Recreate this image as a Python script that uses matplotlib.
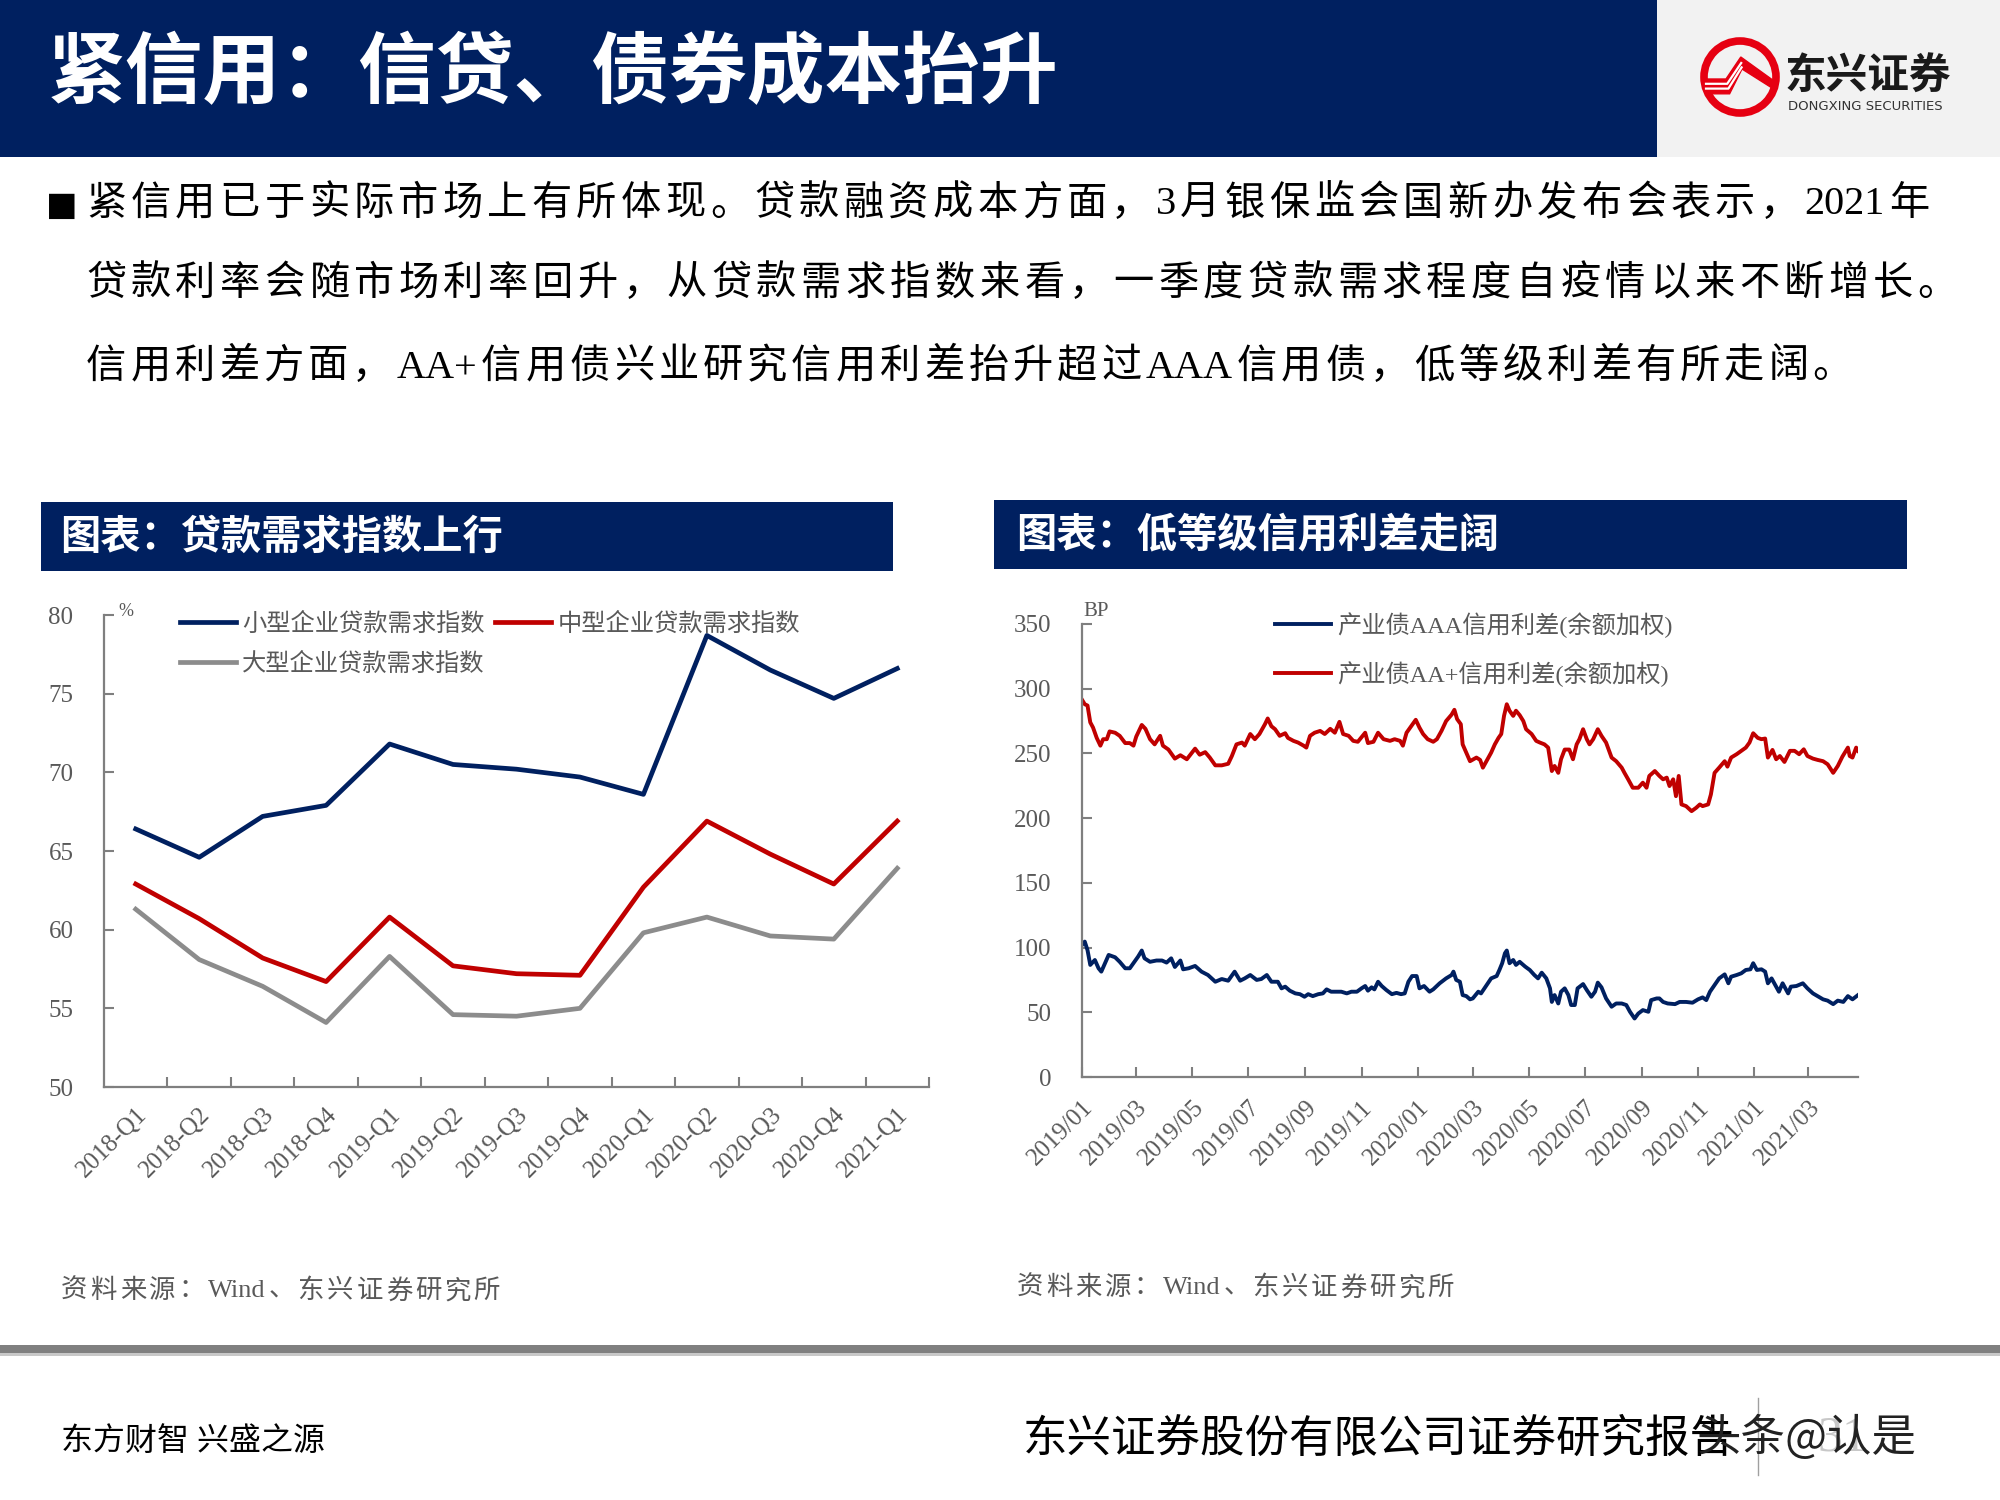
import re
import numpy as np
import pandas as pd
import matplotlib
matplotlib.use("Agg")
import matplotlib.pyplot as plt
from matplotlib.patches import Rectangle, Circle, Polygon

# page size in pixels (figure is 20x15 in at 100 dpi)
W, H = 2000, 1500
NAVY = "#002060"
RED = "#C00000"
LGRAY = "#8C8C8C"
AXCOL = "#7F7F7F"
TXT = "#595959"
SERIF = ["Liberation Serif", "Noto Sans CJK SC"]
SANS = ["Noto Sans CJK SC", "DejaVu Sans"]

# left chart: loan demand index (quarterly)
quarters = ["2018-Q1", "2018-Q2", "2018-Q3", "2018-Q4", "2019-Q1", "2019-Q2", "2019-Q3",
            "2019-Q4", "2020-Q1", "2020-Q2", "2020-Q3", "2020-Q4", "2021-Q1"]
small_idx = [66.4, 64.6, 67.2, 67.9, 71.8, 70.5, 70.2, 69.7, 68.6, 78.7, 76.5, 74.7, 76.6]
medium_idx = [62.9, 60.7, 58.2, 56.7, 60.8, 57.7, 57.2, 57.1, 62.7, 66.9, 64.8, 62.9, 66.9]
large_idx = [61.3, 58.1, 56.4, 54.1, 58.3, 54.6, 54.5, 55.0, 59.8, 60.8, 59.6, 59.4, 63.9]
demand_names = ["小型企业贷款需求指数", "中型企业贷款需求指数", "大型企业贷款需求指数"]

# right chart: credit spreads (BP), x = days since 2019-01-01
aaa_days = [0, 3, 6, 9, 14, 18, 21, 25, 29, 36, 41, 47, 52, 57, 61, 65, 68, 74, 81, 87,
            92, 97, 101, 107, 110, 116, 123, 130, 137, 145, 152, 159, 166, 172, 177, 183, 190, 195, 201, 206,
            210, 213, 217, 221, 226, 232, 237, 242, 246, 251, 257, 262, 266, 271, 277, 282, 288, 293, 299, 304,
            308, 311, 315, 318, 322, 326, 331, 337, 342, 347, 351, 355, 359, 364, 367, 372, 378, 382, 389, 396,
            402, 404, 407, 411, 414, 418, 422,
            425, 431, 434, 440, 445, 451, 454, 457, 460, 462, 465, 469, 472, 476, 482, 487, 492, 496, 500, 505,
            509, 511, 514, 518, 521, 525, 529, 532, 536, 539, 545, 549, 554, 558, 561, 565, 570, 576, 581, 587,
            592, 596, 601, 605, 610, 616, 619, 625, 628,
            632, 637, 645, 650, 657, 664, 670, 675, 679, 683, 688, 693, 699, 703, 706, 712, 717, 722, 727, 730,
            734, 739, 743, 746, 750, 755, 758, 762, 768, 771, 777, 784, 789, 795, 800, 806, 811, 817, 822, 828,
            833, 838, 844]
aaa_bp = [102, 104.6, 98, 86.6, 90.4, 84, 81.4, 87.9, 94.3, 92.5, 89, 84, 84, 89, 93, 97.7, 91.7, 89, 90, 90,
          88.4, 91.7, 85, 90, 83.2, 84, 85.8, 81.4, 78.8, 73.6, 75.7, 74.4, 81.4, 74.4, 76.2, 78.8, 75, 75.7, 78.8, 73.6,
          73.6, 73.6, 68.5, 69.8, 66.7, 64.6, 64, 62, 64, 62.5, 64, 64.6, 67.7, 65.9, 65.9, 65.9, 64.6, 65.9, 65.9, 68.5,
          70.3, 66.7, 69.3, 67.7, 73.6, 70.3, 67.2, 64, 65, 64, 64.6, 73.6, 78, 78, 68.5, 70.3, 65.9, 67.7, 72.4, 76.2,
          78.8, 81.4, 75, 73.6, 63.3, 62.5, 60,
          60.7, 65.9, 64.6, 71, 76.2, 78, 82.7, 87.9, 95.6, 97.7, 87.9, 90.4, 86.6, 89, 85.3, 82.7, 78.8, 76.2, 80.6, 76.2,
          68.5, 58, 63.3, 56.8, 65.9, 68.5, 63.3, 55.6, 55.6, 68.5, 71.8, 67.2, 62, 65.9, 72.9, 69.3, 60.7, 54.3, 56.8, 56.8,
          55.6, 50.4, 45.2, 49, 51.7, 50.4, 59.4, 60.7, 60.7,
          58, 56.8, 56.3, 58, 58, 57.4, 60, 61.5, 59.4, 65.9, 71, 76.2, 79.3, 72.4, 77.5, 78.8, 80.1, 82.7, 83.2, 87.9,
          82.7, 83.2, 81.4, 72.4, 76.2, 69.8, 65.9, 72.4, 64.6, 69.8, 70.3, 72.4, 68.5, 64.6, 62.5, 60, 59, 56.3, 59, 58,
          62.5, 60, 63.3]
aap_days = [0, 3, 6, 9, 12, 16, 20, 23, 27, 30, 36, 41, 47, 52, 56, 59, 65, 69, 74, 79,
            85, 88, 94, 101, 107, 114, 123, 128, 134, 139, 145, 152, 159, 163, 168, 174, 177, 183, 188, 193,
            199, 202, 206,
            210, 215, 221, 224, 230, 235, 241, 244, 248, 253, 259, 264, 270, 275, 280, 284, 290, 295, 300, 308,
            311, 317, 322, 328, 335, 340, 346, 349, 353, 358, 363, 367, 371, 376, 382, 386, 391, 396, 402, 405,
            408, 412, 414, 418, 422,
            429, 433, 436, 442, 445, 449, 453, 456, 459, 462, 465, 469, 472, 476, 480, 483, 489, 494, 498, 503,
            507, 511, 514, 518, 521, 525, 530, 534, 538, 541, 545, 549, 552, 556, 561, 565, 570, 576, 581, 587,
            590, 594, 599, 605, 610, 614, 617, 623, 628,
            632, 636, 639, 643, 646, 649, 652, 657, 663, 668, 672, 675, 681, 684, 688, 693, 699, 702, 706, 712,
            717, 722, 726, 730, 735, 739, 743, 746, 751, 755, 759, 764, 770, 775, 780, 785, 789, 795, 800, 806,
            811, 817, 822, 827, 833, 835, 838, 842, 844]
aap_bp = [291.5, 288, 287, 274, 270, 262, 256, 261, 261, 267, 266, 263.6, 258, 258, 256, 263, 272, 269, 261, 257,
          263.6, 256, 253, 246, 248.6, 245.5, 253.7, 249, 251, 246.8, 240.8, 240.8, 242, 248, 257, 258.4, 256, 265, 261, 265,
          272.6, 277, 271,
          268.7, 263.6, 265.6, 262, 259.7, 258.4, 256, 254.5, 263.6, 266, 267.4, 265, 269, 266, 274.4, 265, 263.6, 259.7, 259, 266,
          258, 259, 266, 261, 259.7, 261, 259.7, 256, 266, 271, 276, 270, 265, 261, 259, 261, 267.4, 275, 280, 283.7,
          276.5, 272.6, 257, 250.6, 244,
          246.8, 245, 239, 246.8, 250.6, 257, 262, 265, 279, 288, 283, 279, 283, 279.6, 275, 268.7, 265, 259.7, 258.4, 257,
          254.5, 236.4, 240.3, 235, 245.5, 253, 253, 245.5, 257, 261, 268.7, 261, 257, 261, 268.7, 263.6, 258.4, 246.8, 244, 239,
          235, 230, 223.5, 223.5, 227.4, 223.5, 232.6, 236.4, 232.6,
          230, 231.3, 224.8, 230, 217, 232.6, 210.6, 209.3, 205.4, 208, 210.6, 209.3, 210.6, 218.3, 235, 239, 244, 239.8, 246.8, 249.4,
          252, 254.5, 258.4, 265.6, 262, 261, 261.5, 246.8, 252.7, 245.5, 248, 243.4, 252, 252, 249.4, 253.2, 248, 246, 245, 244,
          241.6, 235, 240.3, 247.5, 254.5, 248, 246.8, 254.5, 252]
spread_names = ["产业债AAA信用利差(余额加权)", "产业债AA+信用利差(余额加权)"]

body_lines = ["紧信用已于实际市场上有所体现。贷款融资成本方面，3月银保监会国新办发布会表示，2021年",
              "贷款利率会随市场利率回升，从贷款需求指数来看，一季度贷款需求程度自疫情以来不断增长。",
              "信用利差方面，AA+信用债兴业研究信用利差抬升超过AAA信用债，低等级利差有所走阔。"]
source_text = "资料来源：Wind、东兴证券研究所"


def box(x0, y0, x1, y1):
    # pixel box (top-left origin) -> figure fraction rect
    return [x0 / W, 1 - y1 / H, (x1 - x0) / W, (y1 - y0) / H]


def fx(x):
    return x / W


def fy(y):
    return 1 - y / H


def rect(x0, y0, x1, y1, color):
    b = box(x0, y0, x1, y1)
    fig.add_artist(Rectangle((b[0], b[1]), b[2], b[3], transform=fig.transFigure,
                             facecolor=color, edgecolor="none", zorder=0))


fig = plt.figure(figsize=(20, 15), dpi=100)
fig.patch.set_facecolor("white")
renderer = fig.canvas.get_renderer()


def spaced_text(x0, x1, y, s, **kw):
    # letter-spaced line filling x0..x1; runs of latin chars/digits stay together
    tokens = re.findall(r"[A-Za-z0-9+]+|.", s)
    arts, widths = [], []
    for tok in tokens:
        t = fig.text(fx(x0), fy(y), tok, va="center", ha="left", **kw)
        arts.append(t)
        widths.append(t.get_window_extent(renderer).width)
    gap = (x1 - x0 - sum(widths)) / max(len(tokens) - 1, 1)
    pos = x0
    for t, w in zip(arts, widths):
        t.set_x(fx(pos))
        pos += w + gap


# header band + logo area
rect(0, 0, 1657, 157, NAVY)
rect(1657, 0, 2000, 157, "#F2F2F2")
fig.text(fx(48), fy(74), "紧信用：信贷、债券成本抬升", color="white", fontsize=56,
         fontweight="bold", family=SANS, va="center", ha="left")

# logo mark
axl = fig.add_axes(box(1690, 27, 1790, 127))
axl.set_xlim(-1.25, 1.25)
axl.set_ylim(-1.25, 1.25)
axl.set_aspect("equal")
axl.axis("off")
axl.add_patch(Circle((0, 0), 0.9, fill=False, lw=5.5, ec="#E60012"))
axl.add_patch(Polygon([(-0.85, -0.05), (-0.35, -0.05), (0.02, 0.5), (0.88, -0.12), (0.84, -0.3),
                       (0.05, 0.2), (-0.26, -0.42), (-0.85, -0.42)], closed=True, color="#E60012"))
axl.plot([-0.85, -0.32, 0.03], [-0.17, -0.17, 0.35], color="white", lw=1.6)
axl.plot([-0.85, -0.29, 0.04], [-0.29, -0.29, 0.24], color="white", lw=1.6)
fig.text(fx(1785), fy(77), "东兴证券", fontsize=30, fontweight="heavy", family=SANS,
         va="center", ha="left", color="#1a1a1a")
fig.text(fx(1788), fy(107), "DONGXING SECURITIES", fontsize=9.5, family="DejaVu Sans",
         va="center", ha="left", color="#333333")

# body text
fig.text(fx(46), fy(205), "■", fontsize=24, family="DejaVu Sans", va="center", ha="left", color="black")
for yy, xe, line in zip([205, 285, 368], [1929, 1958, 1853], body_lines):
    spaced_text(86, xe, yy, line, fontsize=29, family=SERIF, color="black")

# chart title bars
rect(41, 502, 893, 571, NAVY)
rect(994, 500, 1907, 569, NAVY)
fig.text(fx(60), fy(537), "图表：贷款需求指数上行", color="white", fontsize=29,
         fontweight="bold", family=SANS, va="center")
fig.text(fx(1016), fy(535), "图表：低等级信用利差走阔", color="white", fontsize=29,
         fontweight="bold", family=SANS, va="center")


def style_axes(ax):
    for s in ["top", "right"]:
        ax.spines[s].set_visible(False)
    for s in ["left", "bottom"]:
        ax.spines[s].set_color(AXCOL)
        ax.spines[s].set_linewidth(1.6)
    ax.tick_params(axis="y", direction="in", length=7, width=1.5, color=AXCOL,
                   labelcolor=TXT, labelsize=18, pad=22)
    ax.set_facecolor("none")


# left chart
ax1 = fig.add_axes(box(104, 615, 929, 1087))
x = np.arange(len(quarters))
l_small, = ax1.plot(x, small_idx, color=NAVY, lw=3.4, label=demand_names[0])
l_med, = ax1.plot(x, medium_idx, color=RED, lw=3.4, label=demand_names[1])
l_large, = ax1.plot(x, large_idx, color=LGRAY, lw=3.4, label=demand_names[2])
ax1.set_xlim(-0.5, len(quarters) - 0.5)
ax1.set_ylim(50, 80)
ax1.set_yticks(range(50, 81, 5))
style_axes(ax1)
ax1.set_xticks(x)
ax1.set_xticklabels(quarters, rotation=45, ha="right", va="top", rotation_mode="anchor")
ax1.set_xticks(np.arange(0.5, len(quarters), 1), minor=True)
ax1.tick_params(axis="x", which="major", length=0, pad=12, labelcolor=TXT, labelsize=18)
ax1.tick_params(axis="x", which="minor", direction="in", length=7, width=1.5, color=AXCOL)
for lab in ax1.get_xticklabels() + ax1.get_yticklabels():
    lab.set_family(SERIF)
ax1.legend(handles=[l_small, l_large, l_med], ncol=2, loc="upper left",
           bbox_to_anchor=(fx(180), fy(611)), bbox_transform=fig.transFigure,
           frameon=False, prop={"family": SANS, "size": 17.5}, labelcolor=TXT,
           handlelength=2.3, handletextpad=0.25, columnspacing=0.45,
           labelspacing=0.55, borderpad=0, borderaxespad=0)
fig.text(fx(118), fy(612), "%", fontsize=13, family=SERIF, color=TXT, va="center")

# right chart
base = pd.Timestamp("2019-01-01")
aaa_dates = base + pd.to_timedelta(aaa_days, unit="D")
aap_dates = base + pd.to_timedelta(aap_days, unit="D")
ax2 = fig.add_axes(box(1082, 624, 1858, 1077))
l_aaa, = ax2.plot(aaa_dates, aaa_bp, color=NAVY, lw=2.8, label=spread_names[0])
l_aap, = ax2.plot(aap_dates, aap_bp, color=RED, lw=2.8, label=spread_names[1])
ax2.set_xlim(base, base + pd.Timedelta(days=844))
ax2.set_ylim(0, 350)
ax2.set_yticks(range(0, 351, 50))
style_axes(ax2)
ticks = pd.date_range("2019-01-01", "2021-03-01", freq="2MS")
ax2.set_xticks(ticks)
ax2.set_xticklabels([t.strftime("%Y/%m") for t in ticks], rotation=45, ha="right",
                    va="top", rotation_mode="anchor")
ax2.tick_params(axis="x", direction="in", length=7, width=1.5, color=AXCOL,
                labelcolor=TXT, labelsize=18, pad=14)
for lab in ax2.get_xticklabels() + ax2.get_yticklabels():
    lab.set_family(SERIF)
ax2.legend(handles=[l_aaa, l_aap], loc="upper left",
           bbox_to_anchor=(fx(1275), fy(612)), bbox_transform=fig.transFigure,
           frameon=False, prop={"family": SERIF, "size": 17.5}, labelcolor=TXT,
           handlelength=2.3, handletextpad=0.25, labelspacing=0.95,
           borderpad=0, borderaxespad=0)
fig.text(fx(1083), fy(611), "BP", fontsize=15, family=SERIF, color=TXT, va="center")

# sources
spaced_text(61, 500, 1291, source_text, fontsize=19, family=SERIF, color=TXT)
spaced_text(1017, 1454, 1288, source_text, fontsize=19, family=SERIF, color=TXT)

# footer rule + footer text
rect(0, 1345, 2000, 1353, "#808080")
rect(0, 1353, 2000, 1356, "#C8C8C8")
fig.text(fx(61), fy(1442), "东方财智 兴盛之源", fontsize=23, family=SERIF, color="black", va="center")
fig.text(fx(1818), fy(1438), "31", fontsize=36, family=SERIF, color="#C8C8C8", va="center")
fig.add_artist(plt.Line2D([fx(1758), fx(1758)], [fy(1398), fy(1475)], transform=fig.transFigure,
                          color="#A0A0A0", lw=1))
fig.text(fx(1023), fy(1440), "东兴证券股份有限公司证券研究报告", fontsize=32, family=SERIF,
         color="black", va="center")
fig.text(fx(1697), fy(1438), "头条@认是", fontsize=32, family=SANS, color="#222222", va="center")

fig.savefig("out.png", dpi=100, facecolor="white")
